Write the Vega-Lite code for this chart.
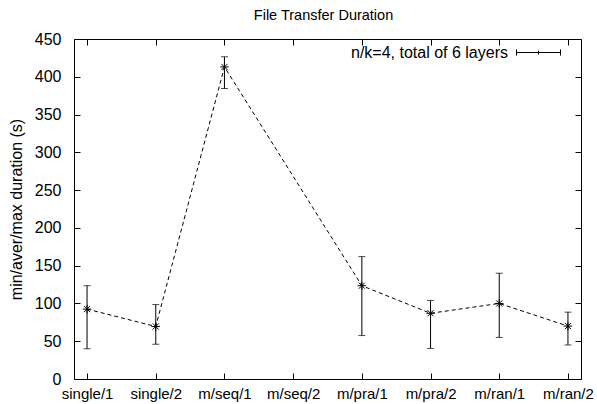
{
  "$schema": "https://vega.github.io/schema/vega-lite/v6.json",
  "width": 507,
  "height": 340,
  "autosize": {"type": "none"},
  "padding": {"left": 74, "top": 39, "right": 16, "bottom": 25},
  "background": "white",
  "title": {
    "text": "File Transfer Duration",
    "font": "Liberation Sans",
    "fontSize": 14.5,
    "fontWeight": "normal",
    "color": "black",
    "anchor": "middle",
    "offset": 7,
    "dx": -4
  },
  "config": {
    "view": {"stroke": "black", "strokeWidth": 1},
    "axis": {
      "labelFont": "Liberation Sans",
      "labelFontSize": 16,
      "labelColor": "black",
      "titleFont": "Liberation Sans",
      "titleFontSize": 16,
      "titleFontWeight": "normal",
      "titleColor": "black",
      "tickColor": "black",
      "tickSize": -6,
      "domain": false,
      "grid": false
    }
  },
  "data": {
    "values": [
      {"cat": "single/1", "avg": 92.5, "min": 40, "max": 123.5, "series": "n/k=4, total of 6 layers"},
      {"cat": "single/2", "avg": 69.5, "min": 46, "max": 98.5, "series": "n/k=4, total of 6 layers"},
      {"cat": "m/seq/1", "avg": 413, "min": 384.5, "max": 426.5, "series": "n/k=4, total of 6 layers"},
      {"cat": "m/pra/1", "avg": 123.5, "min": 57.5, "max": 162, "series": "n/k=4, total of 6 layers"},
      {"cat": "m/pra/2", "avg": 87, "min": 40.5, "max": 104, "series": "n/k=4, total of 6 layers"},
      {"cat": "m/ran/1", "avg": 100, "min": 55, "max": 140, "series": "n/k=4, total of 6 layers"},
      {"cat": "m/ran/2", "avg": 70, "min": 45, "max": 88.5, "series": "n/k=4, total of 6 layers"}
    ]
  },
  "resolve": {"axis": {"x": "independent", "y": "independent"}},
  "layer": [
    {
      "mark": {"type": "line", "color": "black", "strokeWidth": 1, "strokeDash": [4, 3]},
      "encoding": {
        "x": {
          "field": "cat", "type": "ordinal", "sort": null,
          "scale": {"type": "point", "domain": ["single/1", "single/2", "m/seq/1", "m/seq/2", "m/pra/1", "m/pra/2", "m/ran/1", "m/ran/2"], "padding": 0.19},
          "axis": {"orient": "bottom", "title": null, "labelAngle": 0, "labelPadding": 13, "labelFontSize": 15}
        },
        "y": {
          "field": "avg", "type": "quantitative",
          "scale": {"domain": [0, 450], "nice": false, "zero": true},
          "axis": {"orient": "left", "title": "min/aver/max duration (s)", "values": [0, 50, 100, 150, 200, 250, 300, 350, 400, 450], "labelPadding": 19, "titlePadding": 10}
        }
      }
    },
    {
      "mark": {"type": "rule", "strokeWidth": 1},
      "encoding": {
        "x": {"field": "cat", "type": "ordinal", "sort": null,
          "axis": {"orient": "top", "labels": false, "title": null}},
        "y": {"field": "min", "type": "quantitative",
          "axis": {"orient": "right", "labels": false, "title": null, "values": [0, 50, 100, 150, 200, 250, 300, 350, 400, 450]}},
        "y2": {"field": "max"},
        "color": {
          "field": "series", "type": "nominal",
          "scale": {"range": ["black"]},
          "legend": {
            "title": null,
            "orient": "none",
            "legendX": 442,
            "legendY": -9,
            "symbolType": "M-1,0H1M-1,-0.14V0.14M1,-0.14V0.14M0,-0.09V0.09",
            "symbolSize": 1936,
            "symbolStrokeWidth": 1,
            "symbolStrokeColor": "black",
            "labelFont": "Liberation Sans",
            "labelFontSize": 16,
            "labelColor": "black",
            "labelAlign": "right",
            "labelOffset": -53
          }
        }
      }
    },
    {
      "mark": {"type": "tick", "color": "black", "size": 7, "thickness": 1},
      "encoding": {
        "x": {"field": "cat", "type": "ordinal", "sort": null, "axis": null},
        "y": {"field": "min", "type": "quantitative", "axis": null}
      }
    },
    {
      "mark": {"type": "tick", "color": "black", "size": 7, "thickness": 1},
      "encoding": {
        "x": {"field": "cat", "type": "ordinal", "sort": null, "axis": null},
        "y": {"field": "max", "type": "quantitative", "axis": null}
      }
    },
    {
      "mark": {"type": "point", "shape": "M-1,0H1M0,-1V1M-0.72,-0.72L0.72,0.72M-0.72,0.72L0.72,-0.72", "size": 72, "filled": false, "color": "black", "strokeWidth": 1, "opacity": 1},
      "encoding": {
        "x": {"field": "cat", "type": "ordinal", "sort": null, "axis": null},
        "y": {"field": "avg", "type": "quantitative", "axis": null}
      }
    }
  ]
}
